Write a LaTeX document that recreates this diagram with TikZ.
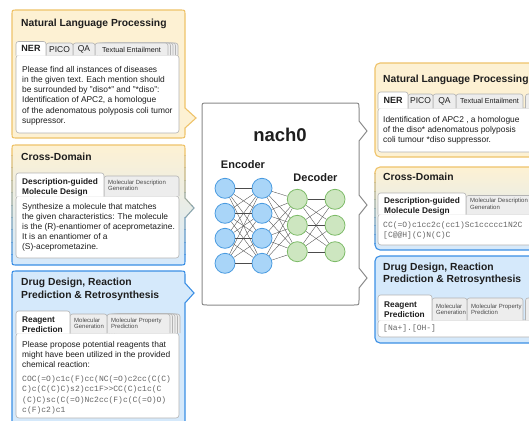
\documentclass[tikz,border=0pt]{standalone}
\usepackage{fontspec}
\setmainfont{Liberation Sans}
\setmonofont{Liberation Mono}
\definecolor{yfill}{HTML}{FDF1D3}
\definecolor{yline}{HTML}{EFC36A}
\definecolor{bfill}{HTML}{D5E9FB}
\definecolor{bline}{HTML}{3B8FE5}
\definecolor{tabg}{HTML}{EDEDED}
\definecolor{tabl}{HTML}{B3B3B3}
\definecolor{cline}{HTML}{8A8A8A}
\definecolor{txtc}{HTML}{1E1E1E}
\definecolor{monoc}{HTML}{666666}
\definecolor{encf}{HTML}{A9D5F8}
\definecolor{encl}{HTML}{4A9BE0}
\definecolor{decf}{HTML}{CDE6C0}
\definecolor{decl}{HTML}{7DBB68}
\newcommand\fs[2]{\fontsize{#1}{#2}\selectfont}
% callout: [style] x1 y1 x2 y2 pointer-y tip-x
\newcommand\callout[7][]{%
 \path[#1] ({#2+5},#3) -- ({#4-5},#3) .. controls (#4,#3) .. (#4,{#3+5}) -- (#4,{#6-10}) -- (#7,#6) -- (#4,{#6+10}) -- (#4,{#5-5}) .. controls (#4,#5) .. ({#4-5},#5) -- ({#2+5},#5) .. controls (#2,#5) .. (#2,{#5-5}) -- (#2,{#3+5}) .. controls (#2,#3) .. ({#2+5},#3) -- cycle;}
\newcommand\gradcallout[6]{%
 \callout[top color=yfill,bottom color=bfill]{#1}{#2}{#3}{#4}{#5}{#6}
 \foreach \k in {0,...,9}{%
   \pgfmathsetmacro\ya{#2-2+(#4-#2+4)*\k/10}%
   \pgfmathsetmacro\yb{#2-2+(#4-#2+4)*(\k+1)/10}%
   \pgfmathsetmacro\pc{100-\k*100/9}%
   \begin{scope}
     \clip (0,\ya) rectangle (600,\yb);
     \callout[draw=yline!\pc!bline, line width=1.1]{#1}{#2}{#3}{#4}{#5}{#6}
   \end{scope}}}
\newcommand\gradrect[4]{%
 \path[top color=yfill,bottom color=bfill,rounded corners=5] (#1,#2) rectangle (#3,#4);
 \foreach \k in {0,...,9}{%
   \pgfmathsetmacro\ya{#2-2+(#4-#2+4)*\k/10}%
   \pgfmathsetmacro\yb{#2-2+(#4-#2+4)*(\k+1)/10}%
   \pgfmathsetmacro\pc{100-\k*100/9}%
   \begin{scope}
     \clip (0,\ya) rectangle (600,\yb);
     \draw[draw=yline!\pc!bline, line width=1.1, rounded corners=5] (#1,#2) rectangle (#3,#4);
   \end{scope}}}
% tab: [style] x1 top x2 bottom
\newcommand\tabshape[5][]{\path[rounded corners=2.5,#1] (#2,#5) -- (#2,#3) -- (#4,#3) -- (#4,#5);}
\newcommand\tabstack[4]{\foreach \o in {10,7.5,5,2.5}{\tabshape[inact]{#1+\o}{#2}{#3+\o}{#4}}}
\begin{document}
\begin{tikzpicture}[x=1pt,y=-1pt,
  yel/.style={fill=yfill,draw=yline,line width=1.1},
  blu/.style={fill=bfill,draw=bline,line width=1.1},
  inact/.style={fill=tabg,draw=tabl,line width=0.6},
  act/.style={fill=white,draw=tabl,line width=0.6},
  content/.style={fill=white,draw=tabl,line width=0.6,rounded corners=3},
  ptitle/.style={anchor=north west,inner sep=0,align=left,text=txtc,font=\bfseries\fs{10.3}{12.6}},
  body/.style={anchor=north west,inner sep=0,align=left,text=txtc,font=\fs{8.4}{10.3}},
  mono/.style={anchor=north west,inner sep=0,align=left,text=monoc,font=\ttfamily\fs{8}{10.6}},
  tabtxt/.style={inner sep=0,text=txtc,font=\fs{8.5}{10}},
  tabbold/.style={anchor=north west,inner sep=0,align=left,text=txtc,font=\bfseries\fs{8.3}{9.8}},
  tabsmall/.style={anchor=north west,inner sep=0,align=left,text=txtc!80,font=\fs{6}{6.2}},
  enc/.style={circle,minimum size=20,inner sep=0,fill=encf,draw=encl,line width=0.8},
  dec/.style={circle,minimum size=20,inner sep=0,fill=decf,draw=decl,line width=0.8},
  link/.style={draw=black!70,line width=0.35}]
\useasboundingbox (0,0) rectangle (529,420);
\clip (0,0) rectangle (529,420);
\fill[white] (0,0) rectangle (529,420);

% ---------- Left 1: NLP ----------
\callout[yel]{12}{10}{185}{138}{118}{196}
\node[ptitle] (l1t) at (21,18.5) {Natural Language Processing};
\draw[content] (16,55) rectangle (179,133);
\tabstack{95}{43}{168}{55}
\tabshape[inact]{95}{43}{168}{55}
\tabshape[inact]{73}{43}{95}{55}
\tabshape[inact]{46}{43}{73}{55}
\tabshape[act]{16}{41.5}{46}{55.5}
\node[tabtxt,font=\bfseries\fs{9}{10}] (l1a) at (31,48.8) {NER};
\node[tabtxt] (l1b) at (59.5,49.5) {PICO};
\node[tabtxt] (l1c) at (84,49.5) {QA};
\node[tabtxt,font=\fs{7.2}{8}] (l1d) at (131.5,49.5) {Textual Entailment};
\node[body] (l1x) at (22,65.8) {Please find all instances of diseases\\in the given text. Each mention should\\be surrounded by "diso*" and "*diso":\\Identification of APC2, a homologue\\of the adenomatous polyposis coli tumor\\suppressor.};

% ---------- Left 2: Cross-Domain ----------
\gradcallout{12}{145}{185}{265}{208}{194}
\node[ptitle] (l2t) at (21,152.5) {Cross-Domain};
\draw[content] (16,196) rectangle (179,258);
\tabshape[inact]{104}{176}{179}{196}
\tabshape[act]{16}{173}{104}{196.5}
\node[tabbold] (l2a) at (22,178.5) {Description-guided\\Molecule Design};
\node[tabsmall] (l2b) at (108,179.8) {Molecular Description\\Generation};
\node[body,font=\fs{8.4}{10.1}] (l2x) at (22,202.8) {Synthesize a molecule that matches\\the given characteristics: The molecule\\is the (R)-enantiomer of aceprometazine.\\It is an enantiomer of a\\(S)-aceprometazine.};

% ---------- Left 3: Drug design ----------
\callout[blu]{12}{271}{185}{440}{293}{194}
\node[ptitle] (l3t) at (21,278) {Drug Design, Reaction\\Prediction \& Retrosynthesis};
\draw[content] (16,333) rectangle (179,418);
\tabstack{107}{314}{170}{333}
\tabshape[inact]{107}{314}{170}{333}
\tabshape[inact]{70}{314}{107}{333}
\tabshape[act]{16}{311}{70}{333.5}
\node[tabbold,font=\bfseries\fs{8.3}{9.4}] (l3a) at (22,317) {Reagent\\Prediction};
\node[tabsmall] (l3b) at (74,317.8) {Molecular\\Generation};
\node[tabsmall] (l3c) at (111,317.8) {Molecular Property\\Prediction};
\node[body] (l3x) at (22,340.8) {Please propose potential reagents that\\might have been utilized in the provided\\chemical reaction:};
\node[mono] (l3m) at (22,375) {COC(=O)c1c(F)cc(NC(=O)c2cc(C(C)\\C)c(C(C)C)s2)cc1F>{}>CC(C)c1c(C\\(C)C)sc(C(=O)Nc2cc(F)c(C(=O)O)\\c(F)c2)c1};

% ---------- Center: nach0 ----------
\draw[fill=white,draw=cline,line width=1] (207,103) -- (354,103) .. controls (359,103) .. (359,108) -- (359,121) -- (367,131) -- (359,141) -- (359,195) -- (367,205) -- (359,215) -- (359,268) -- (367,278) -- (359,288) -- (359,300) .. controls (359,305) .. (354,305) -- (207,305) .. controls (202,305) .. (202,300) -- (202,108) .. controls (202,103) .. (207,103) -- cycle;
\node[inner sep=0,text=txtc,font=\bfseries\fs{18.5}{20}] (title) at (280,135) {nach0};
\node[inner sep=0,text=txtc,font=\bfseries\fs{11}{12}] (encl) at (243,165) {Encoder};
\node[inner sep=0,text=txtc,font=\bfseries\fs{11}{12}] (decl) at (315.5,178) {Decoder};
\foreach \i/\y in {1/188.3,2/213.3,3/238.3,4/263.3}{
  \node[enc] (ea\i) at (225,\y) {};
  \node[enc] (eb\i) at (262,\y) {};}
\foreach \i/\y in {1/199.3,2/225.3,3/251.7}{
  \node[dec] (da\i) at (297.3,\y) {};
  \node[dec] (db\i) at (335,\y) {};}
\foreach \i in {1,...,4}{\foreach \j in {1,...,4}{\draw[link] (ea\i) -- (eb\j);}}
\foreach \i in {1,...,4}{\foreach \j in {1,...,3}{\draw[link] (eb\i) -- (da\j);}}
\foreach \i in {1,...,3}{\foreach \j in {1,...,3}{\draw[link] (da\i) -- (db\j);}}

% ---------- Right 1: NLP ----------
\draw[yel,rounded corners=5] (375,63) rectangle (545,157);
\node[ptitle] (r1t) at (383,74.5) {Natural Language Processing};
\draw[content] (378,108) rectangle (545,152);
\tabstack{523}{94}{560}{108}
\tabshape[inact]{456}{94}{523}{108}
\tabshape[inact]{433}{94}{456}{108}
\tabshape[inact]{408}{94}{433}{108}
\tabshape[act]{378}{92}{408}{108.5}
\node[tabtxt,font=\bfseries\fs{9}{10}] (r1a) at (393,100.3) {NER};
\node[tabtxt] (r1b) at (420.5,101) {PICO};
\node[tabtxt] (r1c) at (444.5,101) {QA};
\node[tabtxt,font=\fs{7.2}{8}] (r1d) at (489.5,101) {Textual Entailment};
\node[body,font=\fs{8.4}{9.8}] (r1x) at (383,116.2) {Identification of APC2 , a homologue\\of the diso* adenomatous polyposis\\coli tumour *diso suppressor.};

% ---------- Right 2: Cross-Domain ----------
\gradrect{375}{167}{545}{250}
\node[ptitle] (r2t) at (383,173) {Cross-Domain};
\draw[content] (378,214) rectangle (545,245);
\tabshape[inact]{466}{195.5}{560}{214}
\tabshape[act]{378}{193}{466}{214.5}
\node[tabbold,font=\bfseries\fs{8.3}{9.4}] (r2a) at (384,197.5) {Description-guided\\Molecule Design};
\node[tabsmall] (r2b) at (470,198.4) {Molecular Description\\Generation};
\node[mono,font=\ttfamily\fs{8}{9.2}] (r2m) at (383,221.8) {CC(=O)c1cc2c(cc1)Sc1ccccc1N2C\\{[}C@@H](C)N(C)C};

% ---------- Right 3: Drug design ----------
\draw[blu,rounded corners=5] (375,256) rectangle (545,343);
\node[ptitle,font=\bfseries\fs{10.3}{12}] (r3t) at (383,263.3) {Drug Design, Reaction\\Prediction \& Retrosynthesis};
\draw[content] (378,320) rectangle (545,337);
\tabstack{523}{298}{560}{320}
\tabshape[inact]{467}{298}{523}{320}
\tabshape[inact]{432}{298}{467}{320}
\tabshape[act]{378}{295}{432}{320.5}
\node[tabbold,font=\bfseries\fs{8.3}{9.8}] (r3a) at (384,302) {Reagent\\Prediction};
\node[tabsmall,font=\fs{6}{5.8}] (r3b) at (436,303.8) {Molecular\\Generation};
\node[tabsmall,font=\fs{6}{5.8}] (r3c) at (471,303.8) {Molecular Property\\Prediction};
\node[mono] (r3m) at (383,324.8) {[Na+].[OH-]};
\end{tikzpicture}
\end{document}
